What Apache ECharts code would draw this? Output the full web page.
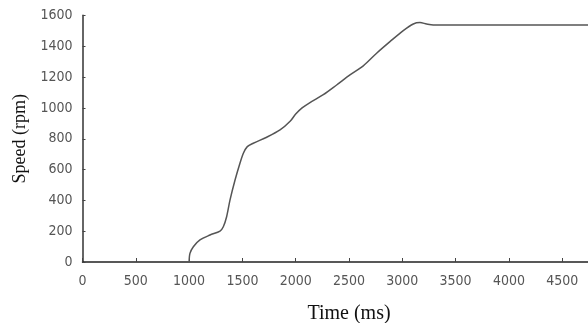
<!DOCTYPE html>
<html>
<head>
<meta charset="utf-8">
<script src="https://cdn.jsdelivr.net/npm/echarts@6/dist/echarts.min.js"></script>
<style>html,body{margin:0;padding:0;background:#fff}#c{width:588px;height:323px}</style>
</head>
<body>
<div id="c"></div>
<script>
const timeMs = [1000, 1008, 1040, 1102, 1196, 1290, 1321, 1352, 1384, 1431, 1477, 1509, 1546, 1602, 1728, 1853, 1950, 2000, 2060, 2134, 2259, 2384, 2509, 2634, 2759, 2884, 3009, 3103, 3166, 3228, 3291, 3500, 4000, 4500, 5000];
const speedRpm = [0, 56, 99, 143, 175, 201, 229, 294, 403, 532, 641, 706, 749, 771, 810, 857, 915, 960, 1000, 1035, 1086, 1149, 1214, 1273, 1355, 1430, 1502, 1545, 1554, 1545, 1539, 1539, 1539, 1539, 1539];
const xTitle = 'Time (ms)';
const yTitle = 'Speed (rpm)';

const chart = echarts.init(document.getElementById('c'));
const tickFont = {color: '#555', fontSize: 14, fontFamily: '"Liberation Sans Narrow", "DejaVu Sans Condensed", sans-serif', formatter: v => String(v)};
chart.setOption({
  animation: false,
  grid: {left: 82.5, right: -27.5, top: 15.5, bottom: 61, containLabel: false, outerBoundsMode: 'none'},
  xAxis: {
    type: 'value', min: 0, max: 5000, interval: 500,
    name: xTitle, nameLocation: 'middle', nameGap: 42,
    nameTextStyle: {fontFamily: '"Liberation Serif", serif', fontSize: 20, color: '#111'},
    axisLine: {lineStyle: {color: '#222', width: 1.5}},
    axisTick: {inside: true, length: 4, lineStyle: {color: '#444'}},
    axisLabel: Object.assign({margin: 12}, tickFont),
    splitLine: {show: false}
  },
  yAxis: {
    type: 'value', min: 0, max: 1600, interval: 200,
    name: yTitle, nameLocation: 'middle', nameGap: 49, nameRotate: 90,
    nameTextStyle: {fontFamily: '"Liberation Serif", serif', fontSize: 18, color: '#111'},
    axisLine: {show: true, lineStyle: {color: '#666', width: 2}},
    axisTick: {show: true, inside: true, length: 3, lineStyle: {color: '#444'}},
    axisLabel: Object.assign({margin: 10}, tickFont),
    splitLine: {show: false}
  },
  series: [{
    type: 'line',
    data: timeMs.map((t, i) => [t, speedRpm[i]]),
    showSymbol: false,
    smooth: 0.3,
    lineStyle: {color: '#555', width: 1.5}
  }]
});
</script>
</body>
</html>
